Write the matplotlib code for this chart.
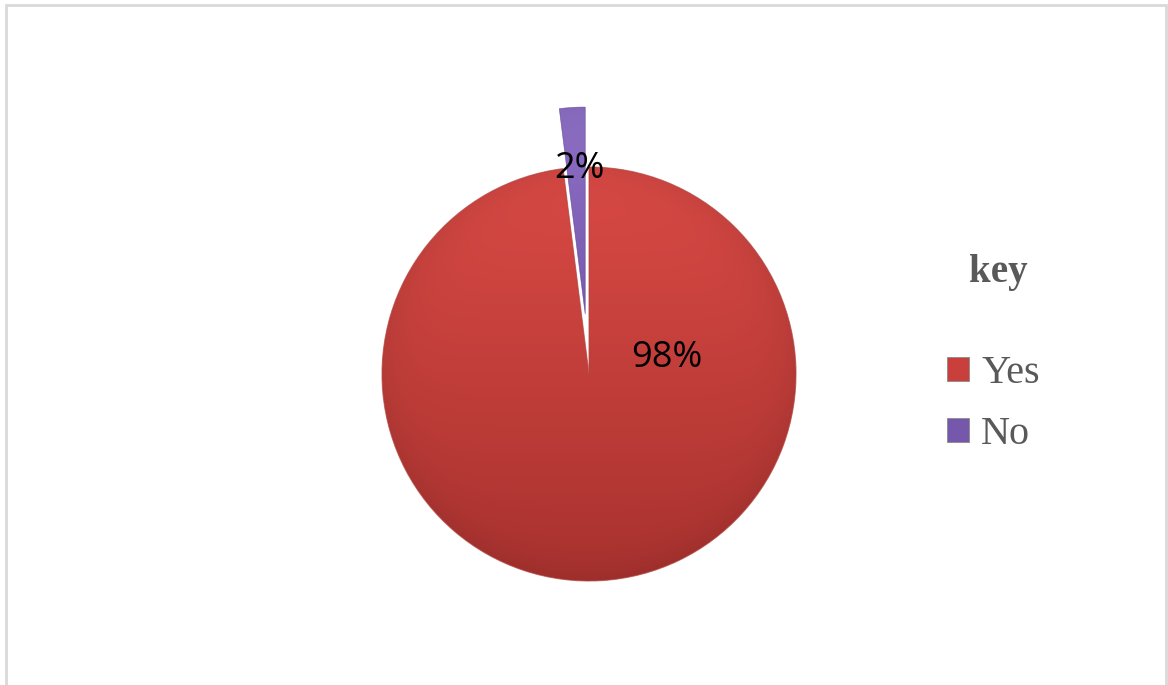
"""
Survey response pie chart (Yes / No) with shaded wedges and a side key.
"""

import numpy as np
import matplotlib.pyplot as plt
from matplotlib.colors import to_rgb
from matplotlib.patches import Patch, Rectangle, Wedge

labels = ['Yes', 'No']
shares = [98, 2]
explode = [0.0, 0.29]

base_colors = ['#C93F3B', '#7558AC']
top_colors = ['#DA4A45', '#8E70C6']
bottom_colors = ['#A9322F', '#5E4494']
rim_colors = ['#B0443F', '#5B4190']

W, H = 1168, 685
cx_px, cy_px, r_px = 589, 374, 207


def shade_wedge(ax, wedge, top, bottom):
    """Fill a wedge with a vertical gradient and a slightly darker rim."""
    cx, cy = wedge.center
    r = wedge.r
    n = 300
    xs = np.linspace(cx - r, cx + r, n)
    ys = np.linspace(cy + r, cy - r, n)
    X, Y = np.meshgrid(xs, ys)
    t = (cy + r - Y) / (2 * r)
    c0 = np.array(to_rgb(top))
    c1 = np.array(to_rgb(bottom))
    rgb = c0[None, None, :] * (1 - t[..., None]) + c1[None, None, :] * t[..., None]
    d = np.hypot(X - cx, Y - cy) / r
    rim = 1 - 0.07 * np.clip(d, 0, 1) ** 10
    rgb = np.clip(rgb * rim[..., None], 0, 1)
    im = ax.imshow(rgb, extent=(cx - r, cx + r, cy - r, cy + r),
                   origin='upper', interpolation='bilinear', zorder=2)
    im.set_clip_path(wedge)


fig = plt.figure(figsize=(W / 100, H / 100), dpi=100)
ax = fig.add_axes([0, 0, 1, 1])

wedges, _ = ax.pie(shares, colors=base_colors, explode=explode, startangle=90,
                   counterclock=False,
                   wedgeprops=dict(edgecolor='white', linewidth=1.0))

for w, top, bot in zip(wedges, top_colors, bottom_colors):
    shade_wedge(ax, w, top, bot)
    w.set_zorder(1)

# thin outline on top of the gradient
for w, ec, lw in zip(wedges, rim_colors, [0.8, 0.5]):
    ax.add_patch(Wedge(w.center, w.r, w.theta1, w.theta2, facecolor='none',
                       edgecolor=ec, linewidth=lw, zorder=3, alpha=0.7))

ax.set_xlim(-cx_px / r_px, (W - cx_px) / r_px)
ax.set_ylim(-(H - cy_px) / r_px, cy_px / r_px)
ax.set_aspect('equal', adjustable='box')
ax.axis('off')

# percentage labels
ax.text(0.377, 0.075, f'{shares[0]}%', fontsize=26, family='Open Sans',
        ha='center', va='center', color='black', zorder=5)
ax.text(-0.048, 0.99, f'{shares[1]}%', fontsize=26, family='Open Sans',
        ha='center', va='center', color='black', zorder=5)

# key
fig.text(998 / W, 1 - 272 / H, 'key', fontsize=28, fontweight='bold',
         family='Liberation Serif', color='#595959', ha='center', va='center')
handles = [Patch(facecolor=c, edgecolor='#8a8a8a', linewidth=0.6) for c in base_colors]
fig.legend(handles, labels, loc='upper left', bbox_to_anchor=(927 / W, 1 - 335 / H),
           frameon=False, borderpad=0, handlelength=0.55, handleheight=0.55,
           handletextpad=0.3, labelspacing=0.6,
           prop=dict(family='Liberation Serif', size=29), labelcolor='#595959')

# outer frame
fig.add_artist(Rectangle((6 / W, -0.02), 1160 / W, 1 - 5 / H + 0.02,
                         transform=fig.transFigure, fill=False,
                         edgecolor='#D9D9D9', linewidth=2))

fig.savefig('out.png', dpi=100)
